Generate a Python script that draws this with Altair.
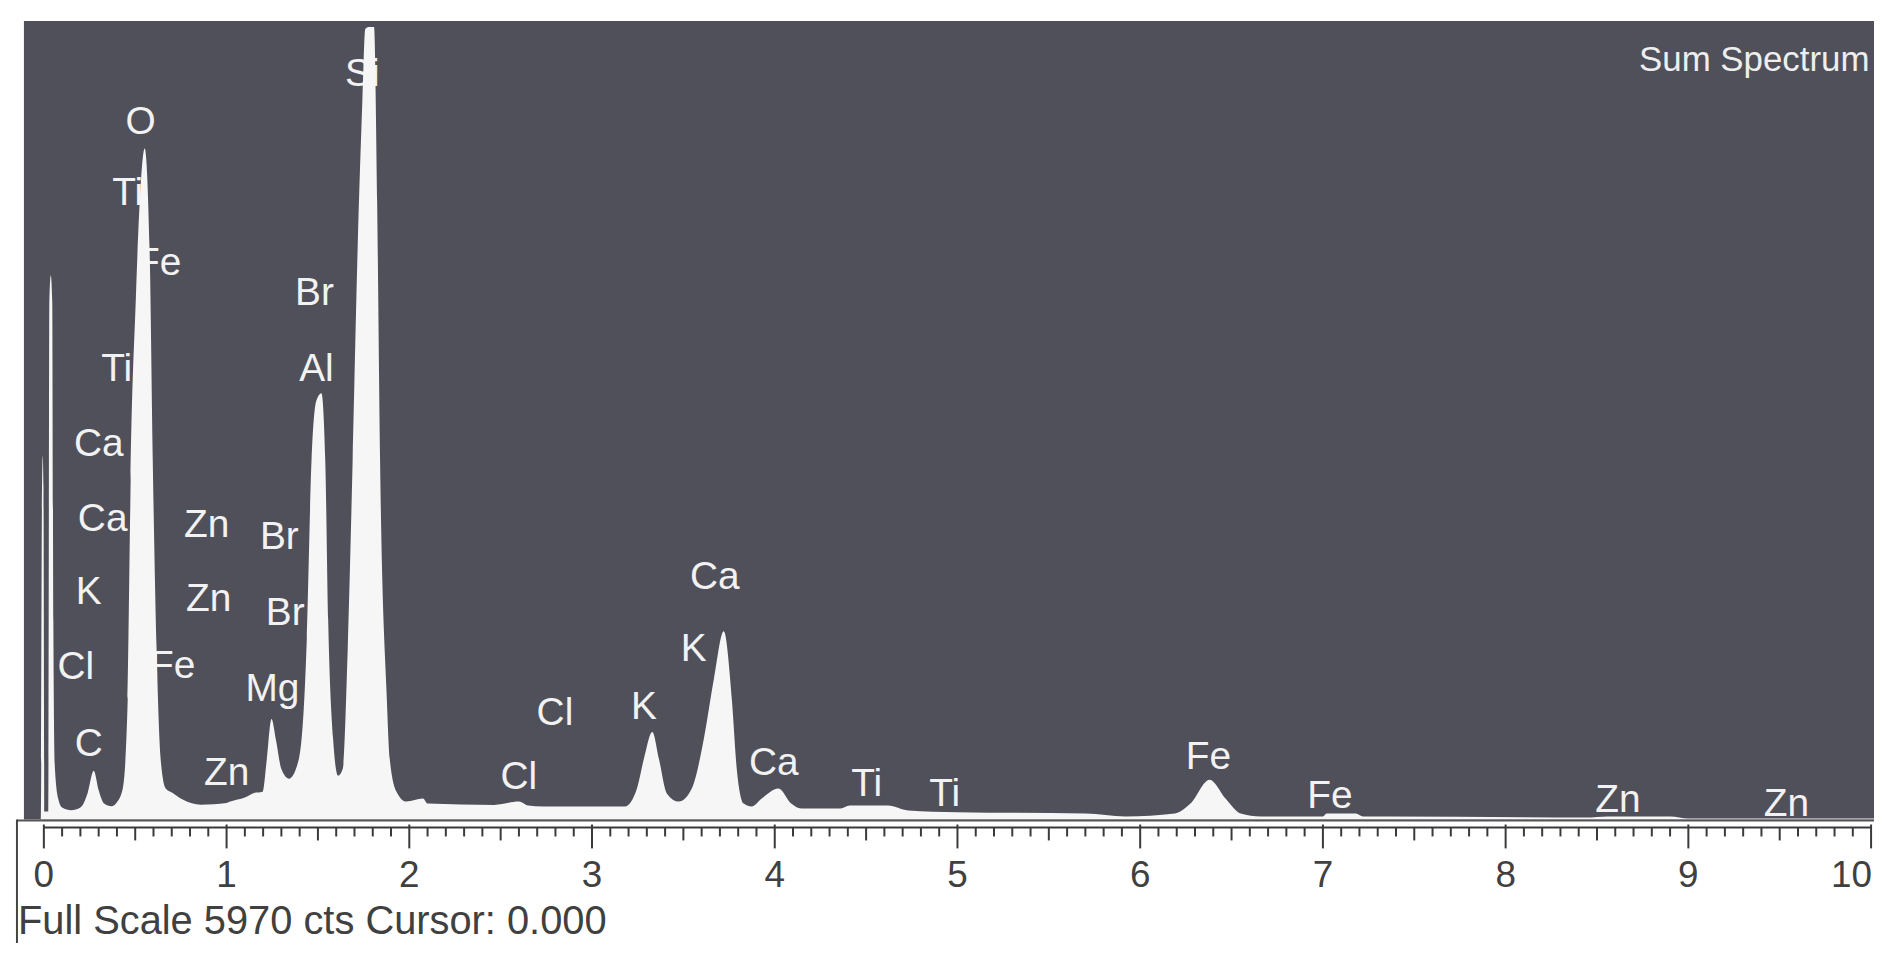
import altair as alt
import pandas as pd

# ---- spectrum (energy in keV, counts) ----
ENERGY_KEV = [-0.115, -0.016, -0.010, -0.006, -0.002, 0.003, 0.024, 0.030, 0.038, 0.046,
              0.052, 0.060, 0.080, 0.100, 0.150, 0.200, 0.240, 0.273, 0.300, 0.330,
              0.370, 0.400, 0.432, 0.459, 0.475, 0.503, 0.525, 0.552, 0.579, 0.596,
              0.617, 0.639, 0.667, 0.705, 0.760, 0.860, 1.000, 1.020, 1.100, 1.150,
              1.198, 1.220, 1.246, 1.270, 1.300, 1.342, 1.396, 1.439, 1.465, 1.492,
              1.519, 1.540, 1.556, 1.583, 1.610, 1.636, 1.663, 1.690, 1.717, 1.743,
              1.759, 1.781, 1.807, 1.824, 1.840, 1.877, 1.893, 1.930, 1.984, 2.075,
              2.100, 2.465, 2.600, 2.650, 2.730, 3.180, 3.246, 3.284, 3.330, 3.366,
              3.410, 3.475, 3.546, 3.612, 3.667, 3.721, 3.765, 3.792, 3.830, 3.874,
              3.929, 4.020, 4.090, 4.144, 4.360, 4.410, 4.620, 4.730, 5.000, 5.700,
              5.920, 6.190, 6.275, 6.380, 6.467, 6.550, 6.660, 7.000, 7.020, 7.180,
              7.220, 7.340, 8.440, 8.560, 8.900, 9.000, 10.060]
COUNTS = [0, 0, 2500, 2740, 2500, 60, 60, 3900, 4100, 3900,
          1500, 400, 150, 90, 70, 90, 200, 368, 220, 120,
          100, 130, 233, 908, 2558, 3908, 4658, 5055, 4283, 2708,
          1283, 458, 233, 200, 150, 112, 125, 135, 165, 200,
          210, 450, 758, 600, 380, 308, 458, 1358, 2708, 3158,
          3210, 2708, 1508, 608, 330, 383, 1283, 2708, 4283, 5408,
          5955, 5970, 5970, 4658, 2708, 908, 458, 210, 135, 158,
          120, 110, 135, 105, 98, 98, 233, 458, 660, 458,
          195, 135, 233, 608, 1058, 1418, 908, 383, 120, 98,
          158, 233, 120, 83, 83, 105, 105, 68, 55, 45,
          23, 45, 120, 300, 158, 45, 23, 23, 45, 45,
          23, 23, 15, 23, 23, 8, 8]

# ---- element markers ----
PEAK_LABELS = ["Si", "O", "Ti", "Fe", "Br", "Ti", "Al", "Ca", "Ca", "Zn",
               "Br", "K", "Zn", "Br", "Cl", "Fe", "Mg", "C", "Zn", "Cl",
               "Cl", "K", "Ca", "K", "Ca", "Ti", "Ti", "Fe", "Fe", "Zn", "Zn"]
LABEL_KEV = [1.743, 0.530, 0.459, 0.628, 1.481, 0.399, 1.492, 0.301, 0.322, 0.891,
             1.289, 0.246, 0.902, 1.321, 0.175, 0.705, 1.251, 0.246, 1.000, 2.599,
             2.797, 3.284, 3.672, 3.557, 3.995, 4.503, 4.930, 6.374, 7.038, 8.614, 9.537]
LABEL_CTS = [5618, 5250, 4718, 4193, 3968, 3390, 3390, 2828, 2265, 2220,
             2130, 1710, 1658, 1553, 1148, 1155, 983, 570, 353, 323,
             803, 848, 1830, 1283, 428, 270, 195, 473, 180, 143, 120]

TICK_LABELS = [0, 1, 2, 3, 4, 5, 6, 7, 8, 9, 10]
HALF_TICKS = [0.5, 1.5, 2.5, 3.5, 4.5, 5.5, 6.5, 7.5, 8.5, 9.5]
MINOR_TICKS = [round(i * 0.1, 1) for i in range(101) if i % 5 != 0]

TITLE_TEXT = "Sum Spectrum"
FOOTER_TEXT = "Full Scale 5970 cts Cursor: 0.000"

FONT = "Liberation Sans"
BG = "#50505a"
WHITE = "#f6f6f6"
AX = "#3a3a3a"

W, H = 1858, 802
xs = alt.Scale(domain=[-0.109, 10.016], nice=False, zero=False)
ys = alt.Scale(domain=[0, 6015], nice=False, zero=False)

one = pd.DataFrame({"k": [0]})

labels = alt.Chart(pd.DataFrame({"t": PEAK_LABELS, "keV": LABEL_KEV, "cts": LABEL_CTS})).mark_text(
    font=FONT, fontSize=39, color="#f2f2f2", align="center", baseline="middle"
).encode(
    x=alt.X("keV:Q", scale=xs, axis=None),
    y=alt.Y("cts:Q", scale=ys, axis=None),
    text="t:N",
)

area = alt.Chart(pd.DataFrame({"keV": ENERGY_KEV, "cts": COUNTS})).mark_area(
    color=WHITE, opacity=1, clip=True, interpolate="monotone"
).encode(
    x=alt.X("keV:Q", scale=xs, axis=None),
    y=alt.Y("cts:Q", scale=ys, axis=None),
)

title = alt.Chart(pd.DataFrame({"t": [TITLE_TEXT]})).mark_text(
    font=FONT, fontSize=35, color="#eeeeee", align="left", baseline="middle"
).encode(x=alt.value(1622), y=alt.value(39), text="t:N")

base_line = alt.Chart(one).mark_rule(color="#555555", strokeWidth=2).encode(
    x=alt.value(-7), x2=alt.value(W), y=alt.value(803)
)
left_frame = alt.Chart(one).mark_rule(color="#444444", strokeWidth=2).encode(
    x=alt.value(-7), y=alt.value(802), y2=alt.value(926)
)

ruler = alt.Chart(pd.DataFrame({"a": [TICK_LABELS[0]], "b": [TICK_LABELS[-1]]})).mark_rule(
    color=AX, strokeWidth=2
).encode(x=alt.X("a:Q", scale=xs, axis=None), x2="b:Q", y=alt.value(810))

minor = alt.Chart(pd.DataFrame({"v": MINOR_TICKS})).mark_rule(color=AX, strokeWidth=2).encode(
    x=alt.X("v:Q", scale=xs, axis=None), y=alt.value(810), y2=alt.value(819)
)
half = alt.Chart(pd.DataFrame({"v": HALF_TICKS})).mark_rule(color=AX, strokeWidth=2).encode(
    x=alt.X("v:Q", scale=xs, axis=None), y=alt.value(810), y2=alt.value(823)
)
major = alt.Chart(pd.DataFrame({"v": TICK_LABELS})).mark_rule(color=AX, strokeWidth=2).encode(
    x=alt.X("v:Q", scale=xs, axis=None), y=alt.value(807), y2=alt.value(831)
)
tick_text = alt.Chart(pd.DataFrame({"v": TICK_LABELS[:-1]})).mark_text(
    font=FONT, fontSize=37, color="#404040", align="center", baseline="middle"
).encode(x=alt.X("v:Q", scale=xs, axis=None), y=alt.value(859), text=alt.Text("v:Q", format="d"))
tick_text_last = alt.Chart(pd.DataFrame({"v": TICK_LABELS[-1:]})).mark_text(
    font=FONT, fontSize=37, color="#404040", align="right", baseline="middle", dx=1
).encode(x=alt.X("v:Q", scale=xs, axis=None), y=alt.value(859), text=alt.Text("v:Q", format="d"))

footer = alt.Chart(pd.DataFrame({"t": [FOOTER_TEXT]})).mark_text(
    font=FONT, fontSize=40, color="#404040", align="left", baseline="alphabetic"
).encode(x=alt.value(-6), y=alt.value(917), text="t:N")

chart = alt.layer(
    labels, area, title, base_line, left_frame, ruler, minor, half, major,
    tick_text, tick_text_last, footer
).properties(
    width=W, height=H,
    padding={"left": 16, "top": 11, "right": 0, "bottom": 124},
    autosize="none",
    background="#ffffff",
).configure_view(fill=BG, strokeWidth=0)

chart.save("out.html", embed_options={"renderer": "svg", "actions": False})
